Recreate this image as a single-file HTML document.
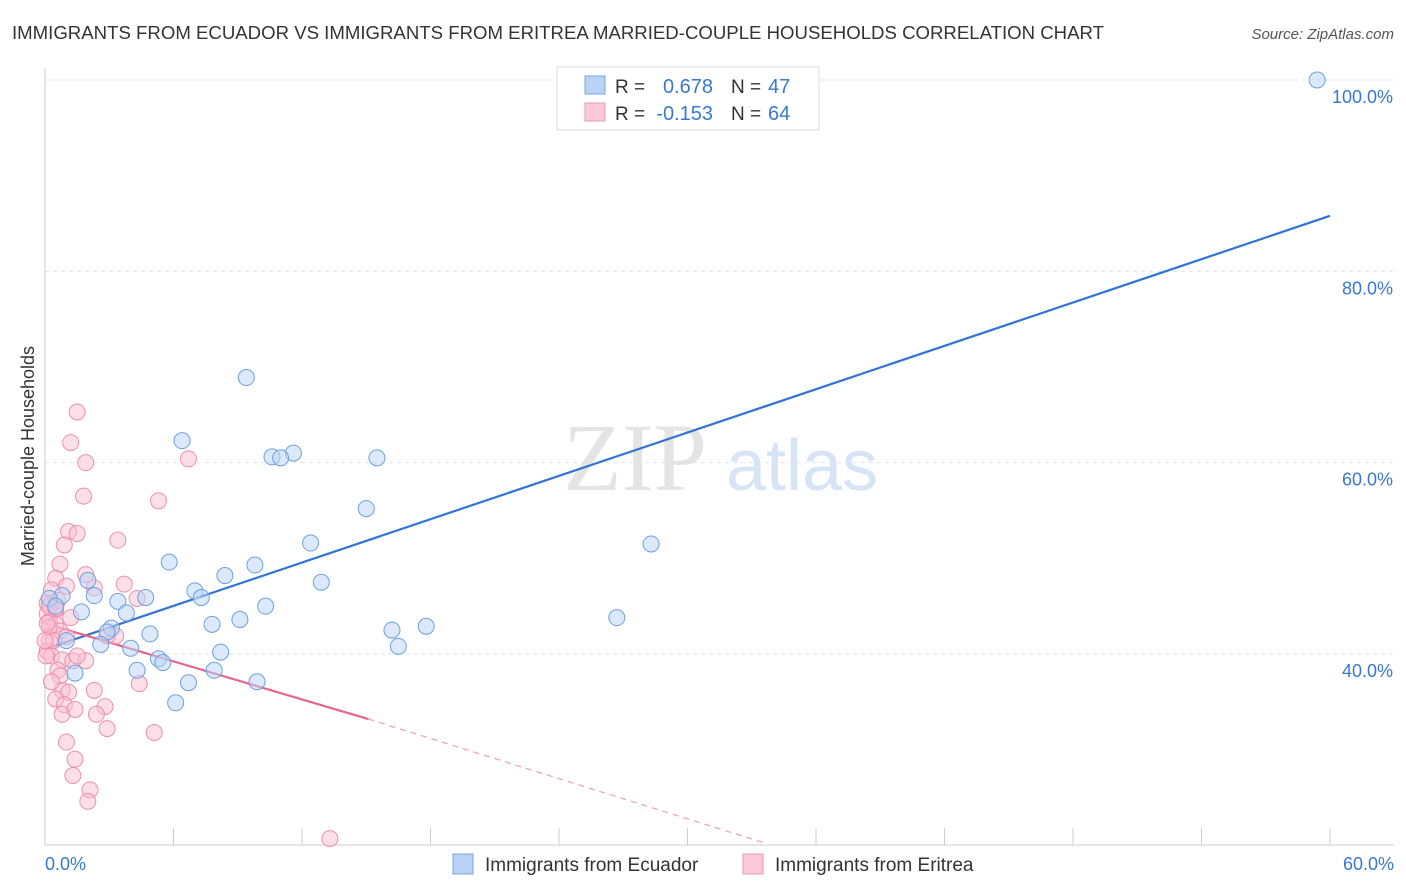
<!DOCTYPE html>
<html><head><meta charset="utf-8"><style>
body{margin:0;background:#fff;font-family:"Liberation Sans",sans-serif;}
svg{display:block}
</style></head><body>
<svg width="1406" height="892" xmlns="http://www.w3.org/2000/svg" id="chart">
<text x="12" y="39" font-size="18" fill="#333" textLength="1092" lengthAdjust="spacingAndGlyphs">IMMIGRANTS FROM ECUADOR VS IMMIGRANTS FROM ERITREA MARRIED-COUPLE HOUSEHOLDS CORRELATION CHART</text>
<text x="1394" y="39" font-size="15" fill="#555" font-style="italic" text-anchor="end">Source: ZipAtlas.com</text>
<g>
<text x="635" y="490" font-size="96" fill="#e4e4e4" font-family="Liberation Serif,serif" text-anchor="middle">ZIP</text>
<text x="802" y="490" font-size="72" fill="#d6e4f5" text-anchor="middle">atlas</text>
</g>
<g id="grid"></g>
<g id="axes"></g>
<g id="lines"></g>
<g id="pts"></g>
<text transform="translate(34,456) rotate(-90)" font-size="18" fill="#333" text-anchor="middle">Married-couple Households</text>
<g>
<rect x="557" y="67" width="262" height="63" fill="#fff" stroke="#ddd"/>
<rect x="585" y="76" width="20" height="18" fill="#b9d3f5" stroke="#7aa6e0"/>
<rect x="585" y="103" width="20" height="18" fill="#fbc9d8" stroke="#ee9ab5"/>
<text x="615" y="93" font-size="19" fill="#333">R =</text>
<text x="713" y="93" font-size="20" fill="#3a78d0" text-anchor="end">0.678</text>
<text x="731" y="93" font-size="19" fill="#333">N =</text>
<text x="768" y="93" font-size="20" fill="#3a78d0">47</text>
<text x="615" y="120" font-size="19" fill="#333">R =</text>
<text x="713" y="120" font-size="20" fill="#3a78d0" text-anchor="end">-0.153</text>
<text x="731" y="120" font-size="19" fill="#333">N =</text>
<text x="768" y="120" font-size="20" fill="#3a78d0">64</text>
</g>
<g>
<rect x="453" y="854" width="20" height="20" fill="#b9d3f5" stroke="#7aa6e0"/>
<text x="485" y="871" font-size="19" fill="#333">Immigrants from Ecuador</text>
<rect x="743" y="854" width="20" height="20" fill="#fbc9d8" stroke="#ee9ab5"/>
<text x="775" y="871" font-size="19" fill="#333">Immigrants from Eritrea</text>
</g>
</svg>
<script>
const xMin=0,xMax=60,yMin=20,yMax=100;
const yTicks=[40,60,80,100];
const yTickLabels=["40.0%","60.0%","80.0%","100.0%"];
const xTickLabels=["0.0%","60.0%"];
const ecuadorX=[59.4,9.4,6.4,11.6,10.6,11.0,15.5,15.0,28.3,12.4,5.8,9.8,8.4,12.9,2.0,7.0,7.3,4.7,0.8,2.3,3.4,10.3,1.7,3.8,9.1,7.8,26.7,17.8,16.2,3.1,2.9,4.9,1.0,2.6,4.0,16.5,8.2,5.3,5.5,4.3,1.4,7.9,6.7,9.9,6.1,0.2,0.5];
const ecuadorY=[100,68.9,62.3,61.0,60.6,60.5,60.5,55.2,51.5,51.6,49.6,49.3,48.2,47.5,47.7,46.6,45.9,45.9,46.1,46.1,45.5,45.0,44.4,44.3,43.6,43.1,43.8,42.9,42.5,42.7,42.3,42.1,41.4,41.0,40.6,40.8,40.2,39.5,39.1,38.3,38.0,38.3,37.0,37.1,34.9,45.8,45.0];
const eritreaX=[1.5,1.2,1.9,6.7,1.8,5.3,1.1,1.5,0.9,3.4,0.7,0.5,1.9,3.7,2.3,4.3,0.3,0.1,0.5,0.1,0.2,0.5,0.7,1.0,3.3,2.9,0.2,0.1,0.3,0.8,1.3,1.9,0.6,0.7,0.8,1.1,2.3,4.4,0.5,0.9,0.8,2.8,2.4,1.4,2.9,5.1,1.0,1.4,1.3,2.1,2.0,13.3,0.2,0.4,0.05,0.2,0.6,1.0,0.1,1.2,0.3,1.5,0.0,0.5];
const eritreaY=[65.3,62.1,60.0,60.4,56.5,56.0,52.8,52.6,51.4,51.9,49.4,47.9,48.3,47.3,46.9,45.8,46.7,45.3,44.6,44.2,43.4,43.1,42.4,41.8,41.9,41.9,41.4,40.3,39.8,39.4,39.3,39.3,38.3,37.7,36.2,36.0,36.2,36.9,35.3,34.7,33.7,34.5,33.7,34.2,32.2,31.8,30.8,29.0,27.3,25.8,24.6,20.7,42.8,41.4,39.8,45.0,45.6,47.1,43.2,43.8,37.1,39.8,41.4,44.8];
const blueLine=[0,40.5,60,85.8];
const pinkLine=[0,43.2,15.1,33.2,33.6,20.25];
const NS="http://www.w3.org/2000/svg";
const L=45,R=1330,T=80,B=654;
const sx=v=>L+(v-xMin)/(xMax-xMin)*(R-L);
const sy=v=>B-(v-40)/(100-40)*(B-T);
function mk(tag,attrs,parent){const e=document.createElementNS(NS,tag);for(const k in attrs)e.setAttribute(k,attrs[k]);document.getElementById(parent).appendChild(e);return e;}
yTicks.forEach((t,i)=>{
 const g=mk('line',{x1:L,x2:1394,y1:sy(t),y2:sy(t),stroke:'#e2e2e2','stroke-dasharray':'4,4'},'grid');
 
 
 const tx=mk('text',{x:1393,y:sy(t)+23,'font-size':18,fill:'#3a78d0','text-anchor':'end'},'grid');
 tx.textContent=yTickLabels[i];
 
 
});
const ax=mk('line',{x1:L,x2:1394,y1:845,y2:845,stroke:'#ccc'},'axes');


const ay=mk('line',{x1:L,x2:L,y1:68,y2:845,stroke:'#ccc'},'axes');


for(let i=0;i<=10;i++){const v=i*6;
 const tk=mk('line',{x1:sx(v),x2:sx(v),y1:828,y2:845,stroke:'#ccc'},'axes');
 
 }
[[0,'start',L],[60,'end',1394]].forEach((a,i)=>{const t=mk('text',{x:a[2],y:870,'font-size':18,fill:'#3a78d0','text-anchor':a[1]},'axes');t.textContent=xTickLabels[i];
 
 });
function pts(xs,ys,fill,stroke,name){xs.forEach((x,i)=>{const c=mk('circle',{cx:sx(x),cy:sy(ys[i]),r:8,fill:fill,'fill-opacity':0.5,stroke:stroke,'stroke-width':1},'pts');
 
 });}
pts(eritreaX,eritreaY,'#fbc0d2','#ec8fae','eritrea-point');
pts(ecuadorX,ecuadorY,'#b9d3f5','#6d9fe0','ecuador-point');
const bl=mk('line',{x1:sx(blueLine[0]),y1:sy(blueLine[1]),x2:sx(blueLine[2]),y2:sy(blueLine[3]),stroke:'#2f74d6','stroke-width':2.2},'lines');


const pl=mk('line',{x1:sx(pinkLine[0]),y1:sy(pinkLine[1]),x2:sx(pinkLine[2]),y2:sy(pinkLine[3]),stroke:'#e8648e','stroke-width':2.2},'lines');


const pd=mk('line',{x1:sx(pinkLine[2]),y1:sy(pinkLine[3]),x2:sx(pinkLine[4]),y2:sy(pinkLine[5]),stroke:'#e8a0b8','stroke-width':1.2,'stroke-dasharray':'6,5'},'lines');


</script>
</body></html>
